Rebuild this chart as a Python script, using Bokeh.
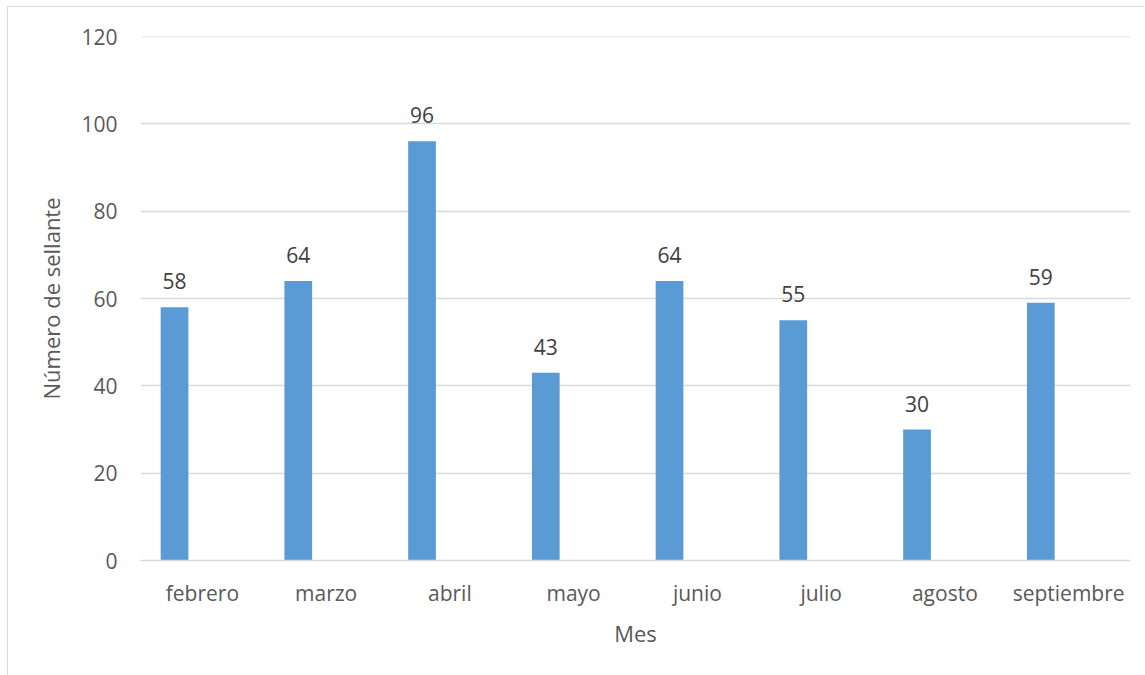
from bokeh.plotting import figure
from bokeh.models import FactorRange, FixedTicker, ColumnDataSource, Span
from bokeh.transform import dodge
from bokeh.embed import file_html
from bokeh.resources import INLINE

# Sealants applied per month
meses = ["febrero", "marzo", "abril", "mayo", "junio", "julio", "agosto", "septiembre"]
sellantes = [58, 64, 96, 43, 64, 55, 30, 59]
y_ticks = [0, 20, 40, 60, 80, 100, 120]

FONT = "Open Sans"
GRAY_TXT = "#595959"
GRID = "#d9d9d9"
BAR = "#5b9bd5"

src = ColumnDataSource(dict(mes=meses, n=sellantes, lbl=[str(v) for v in sellantes]))

# the figure is shifted by the chart-area border drawn with CSS
p = figure(
    width=1137, height=669,
    x_range=FactorRange(*meses, range_padding=0),
    y_range=(0, 120),
    output_backend="svg", toolbar_location=None,
    min_border_left=132, min_border_right=15, min_border_top=29, min_border_bottom=116,
    styles={"margin-left": "7px", "margin-top": "6px",
            "border-left": "1px solid #d9d9d9", "border-top": "1px solid #d9d9d9"},
)
p.outline_line_color = None
p.background_fill_color = "white"
p.border_fill_color = "white"

# bars sit left of the category centre (clustered layout)
off = -0.225
p.vbar(x=dodge("mes", off, range=p.x_range), top="n", width=0.224, source=src,
       fill_color=BAR, line_color=None)

p.text(x=dodge("mes", off, range=p.x_range), y="n", text="lbl", source=src,
       text_align="center", text_baseline="middle", y_offset=-26,
       text_font={"value": FONT}, text_font_size="21px", text_color="#404040")

# y axis
p.yaxis.ticker = FixedTicker(ticks=y_ticks)
p.yaxis.axis_line_color = None
p.yaxis.major_tick_line_color = None
p.yaxis.minor_tick_line_color = None
p.yaxis.major_label_text_font = FONT
p.yaxis.major_label_text_font_size = "21px"
p.yaxis.major_label_text_color = GRAY_TXT
p.yaxis.major_label_standoff = 17
p.yaxis.axis_label = "Número de sellante"
p.yaxis.axis_label_text_font = FONT
p.yaxis.axis_label_text_font_size = "22px"
p.yaxis.axis_label_text_font_style = "normal"
p.yaxis.axis_label_text_color = GRAY_TXT
p.yaxis.axis_label_standoff = 12

# x axis
p.xaxis.axis_line_color = GRID
p.xaxis.axis_line_width = 1.5
p.xaxis.major_tick_line_color = None
p.xaxis.minor_tick_line_color = None
p.xaxis.major_label_text_font = FONT
p.xaxis.major_label_text_font_size = "21px"
p.xaxis.major_label_text_color = GRAY_TXT
p.xaxis.major_label_standoff = 12
p.xaxis.axis_label = "Mes"
p.xaxis.axis_label_text_font = FONT
p.xaxis.axis_label_text_font_size = "22px"
p.xaxis.axis_label_text_font_style = "normal"
p.xaxis.axis_label_text_color = GRAY_TXT
p.xaxis.axis_label_standoff = 8

p.xgrid.grid_line_color = None
p.ygrid.grid_line_color = GRID
p.ygrid.grid_line_width = 1.5

# top gridline at the edge of the range
p.add_layout(Span(location=120, dimension="width", line_color=GRID, line_width=1.5))

open("out.html", "w").write(file_html(p, INLINE))
